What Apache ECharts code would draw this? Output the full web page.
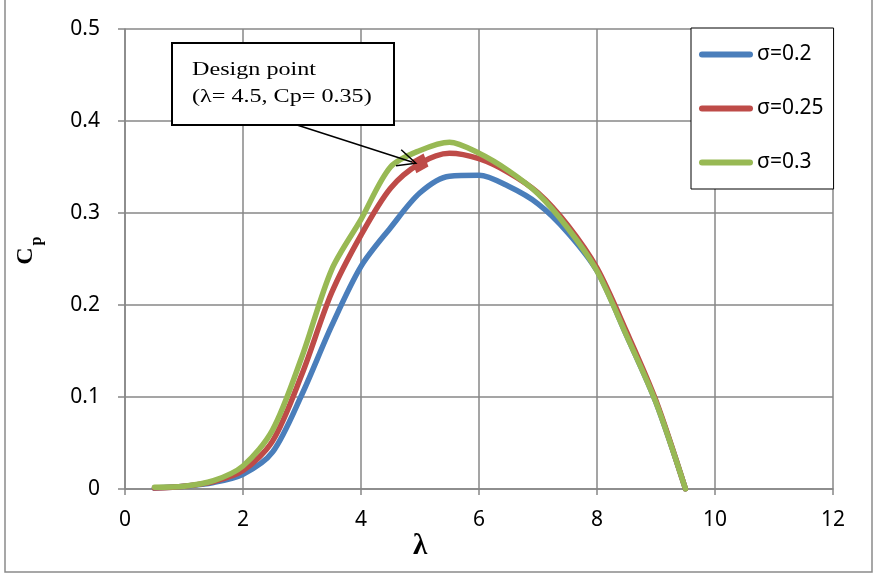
<!DOCTYPE html>
<html>
<head>
<meta charset="utf-8">
<script src="https://cdn.jsdelivr.net/npm/echarts@6/dist/echarts.min.js"></script>
<style>
  html, body { margin: 0; padding: 0; background: #fff; }
  #chart { width: 874px; height: 575px; }
</style>
</head>
<body>
<div id="chart"></div>
<script>
// Tip speed ratio (λ) sampled every 0.5
const lambda = [0.5, 1, 1.5, 2, 2.5, 3, 3.5, 4, 4.5, 5, 5.5, 6, 6.5, 7, 7.5, 8, 8.5, 9, 9.5];

// Power coefficient Cp for each solidity σ
const cpSigma020 = [0.001, 0.003, 0.007, 0.016, 0.040, 0.103, 0.177, 0.242, 0.284, 0.322, 0.340, 0.341, 0.329, 0.310, 0.279, 0.237, 0.167, 0.094, 0.000];
const cpSigma025 = [0.001, 0.003, 0.008, 0.020, 0.052, 0.125, 0.213, 0.276, 0.327, 0.354, 0.365, 0.359, 0.344, 0.322, 0.287, 0.240, 0.171, 0.096, 0.000];
const cpSigma030 = [0.002, 0.003, 0.009, 0.025, 0.064, 0.144, 0.238, 0.293, 0.350, 0.368, 0.377, 0.365, 0.346, 0.321, 0.284, 0.237, 0.167, 0.094, 0.000];

const seriesNames = ['σ=0.2', 'σ=0.25', 'σ=0.3'];
const seriesColors = ['#4A7EBB', '#BE4B48', '#98B954'];

// Highlighted design point on the σ=0.25 curve, and the callout arrow (λ, Cp)
const designPoint = [5.0, 0.354];
const arrowStart = [2.85, 0.397];
const arrowEnd = [4.93, 0.354];

const xTicks = { min: 0, max: 12, interval: 2 };
const yTicks = { min: 0, max: 0.5, interval: 0.1 };

const pair = (xs, ys) => xs.map((x, i) => [x, ys[i]]);
const allCp = [cpSigma020, cpSigma025, cpSigma030];

const gridColor = '#878787';
const labelFont = '"Noto Sans", sans-serif';
const serifFont = '"Liberation Serif", "DejaVu Serif", serif';

const chart = echarts.init(document.getElementById('chart'), null, { renderer: 'canvas' });

const lineSeries = allCp.map((cp, i) => ({
  name: seriesNames[i],
  type: 'line',
  data: pair(lambda, cp),
  smooth: 0.3,
  symbol: 'none',
  showSymbol: false,
  lineStyle: { width: 5.5, color: seriesColors[i], cap: 'round', join: 'round' },
  itemStyle: { color: seriesColors[i] },
  z: 2 + i
}));

// Design point marker and the callout arrow shaft, drawn above the curves
lineSeries.push({
  name: 'design point',
  type: 'line',
  data: [],
  z: 8,
  markPoint: {
    silent: true,
    symbol: 'diamond',
    symbolSize: [18, 21],
    symbolRotate: -20,
    itemStyle: { color: seriesColors[1], opacity: 1 },
    label: { show: false },
    data: [{ coord: designPoint }]
  },
  markLine: {
    silent: true,
    symbol: ['none', 'none'],
    lineStyle: { color: '#000', width: 1.5, type: 'solid' },
    label: { show: false },
    data: [[{ coord: arrowStart }, { coord: arrowEnd }]]
  }
});

chart.setOption({
  animation: false,
  backgroundColor: '#fff',
  grid: { left: 125, right: 41, top: 29, bottom: 86 },
  xAxis: {
    type: 'value',
    min: xTicks.min, max: xTicks.max, interval: xTicks.interval,
    axisLine: { show: true, lineStyle: { color: gridColor, width: 1.5 } },
    axisTick: { show: true, inside: false, length: 6, lineStyle: { color: gridColor, width: 1.5 } },
    splitLine: { show: true, lineStyle: { color: gridColor, width: 1.5 } },
    axisLabel: { color: '#000', fontFamily: labelFont, fontSize: 21, margin: 21 }
  },
  yAxis: {
    type: 'value',
    min: yTicks.min, max: yTicks.max, interval: yTicks.interval,
    axisLine: { show: true, lineStyle: { color: gridColor, width: 1.5 } },
    axisTick: { show: true, inside: false, length: 7, lineStyle: { color: gridColor, width: 1.5 } },
    splitLine: { show: true, lineStyle: { color: gridColor, width: 1.5 } },
    axisLabel: { color: '#000', fontFamily: labelFont, fontSize: 21, margin: 25 }
  },
  legend: {
    data: seriesNames,
    orient: 'vertical',
    left: 691,
    top: 28,
    padding: [16, 10, 16, 8],
    itemGap: 33,
    itemWidth: 54,
    itemHeight: 6,
    icon: 'path://M3,0 L51,0 A3,3 0 0 1 51,6 L3,6 A3,3 0 0 1 3,0 Z',
    backgroundColor: '#fff',
    borderColor: '#000',
    borderWidth: 1,
    borderRadius: 0,
    textStyle: { color: '#000', fontFamily: labelFont, fontSize: 21, padding: [0, 0, 0, -1] }
  },
  series: lineSeries,
  graphic: [
    // outer chart frame
    { id: 'frame', type: 'rect', shape: { x: 5, y: -2, width: 867, height: 574 },
      style: { fill: 'none', stroke: '#8a8a8a', lineWidth: 1.5 }, silent: true, z: 0 },
    // callout box
    { id: 'calloutBox', type: 'rect', shape: { x: 172, y: 43, width: 222, height: 82 },
      style: { fill: '#fff', stroke: '#000', lineWidth: 2 }, z: 10 },
    { id: 'calloutLine1', type: 'text', x: 192, y: 70, scaleX: 1.27, z: 11,
      style: { text: 'Design point', fill: '#000', font: '19px ' + serifFont, verticalAlign: 'middle' } },
    { id: 'calloutLine2', type: 'text', x: 192, y: 97, scaleX: 1.27, z: 11,
      style: { text: '(λ= 4.5, Cp= 0.35)', fill: '#000', font: '19px ' + serifFont, verticalAlign: 'middle' } },
    // axis titles
    { id: 'xTitle', type: 'text', x: 420, y: 547, z: 11,
      style: { text: 'λ', fill: '#000', font: 'bold 29px ' + serifFont, align: 'center', verticalAlign: 'middle' } },
    { id: 'yTitleC', type: 'text', x: 25.5, y: 256, rotation: Math.PI / 2, z: 11,
      style: { text: 'C', fill: '#000', font: 'bold 24px ' + serifFont, align: 'center', verticalAlign: 'middle' } },
    { id: 'yTitleP', type: 'text', x: 36.5, y: 241, rotation: Math.PI / 2, z: 11,
      style: { text: 'p', fill: '#000', font: 'bold 16px ' + serifFont, align: 'center', verticalAlign: 'middle' } }
  ]
});

// Open arrowhead at the end of the callout shaft, placed from the axis scales
const tip = chart.convertToPixel({ gridIndex: 0 }, arrowEnd);
const tail = chart.convertToPixel({ gridIndex: 0 }, arrowStart);
const back = Math.atan2(tail[1] - tip[1], tail[0] - tip[0]);
const headLen = 20, headAngle = 25 * Math.PI / 180;
const arm = a => [tip[0] + headLen * Math.cos(back + a), tip[1] + headLen * Math.sin(back + a)];
chart.setOption({
  graphic: [{
    id: 'arrowHead', type: 'polyline', z: 100, silent: true,
    shape: { points: [arm(headAngle), tip, arm(-headAngle)] },
    style: { stroke: '#000', lineWidth: 1.5, fill: null, lineJoin: 'miter' }
  }]
});
</script>
</body>
</html>
